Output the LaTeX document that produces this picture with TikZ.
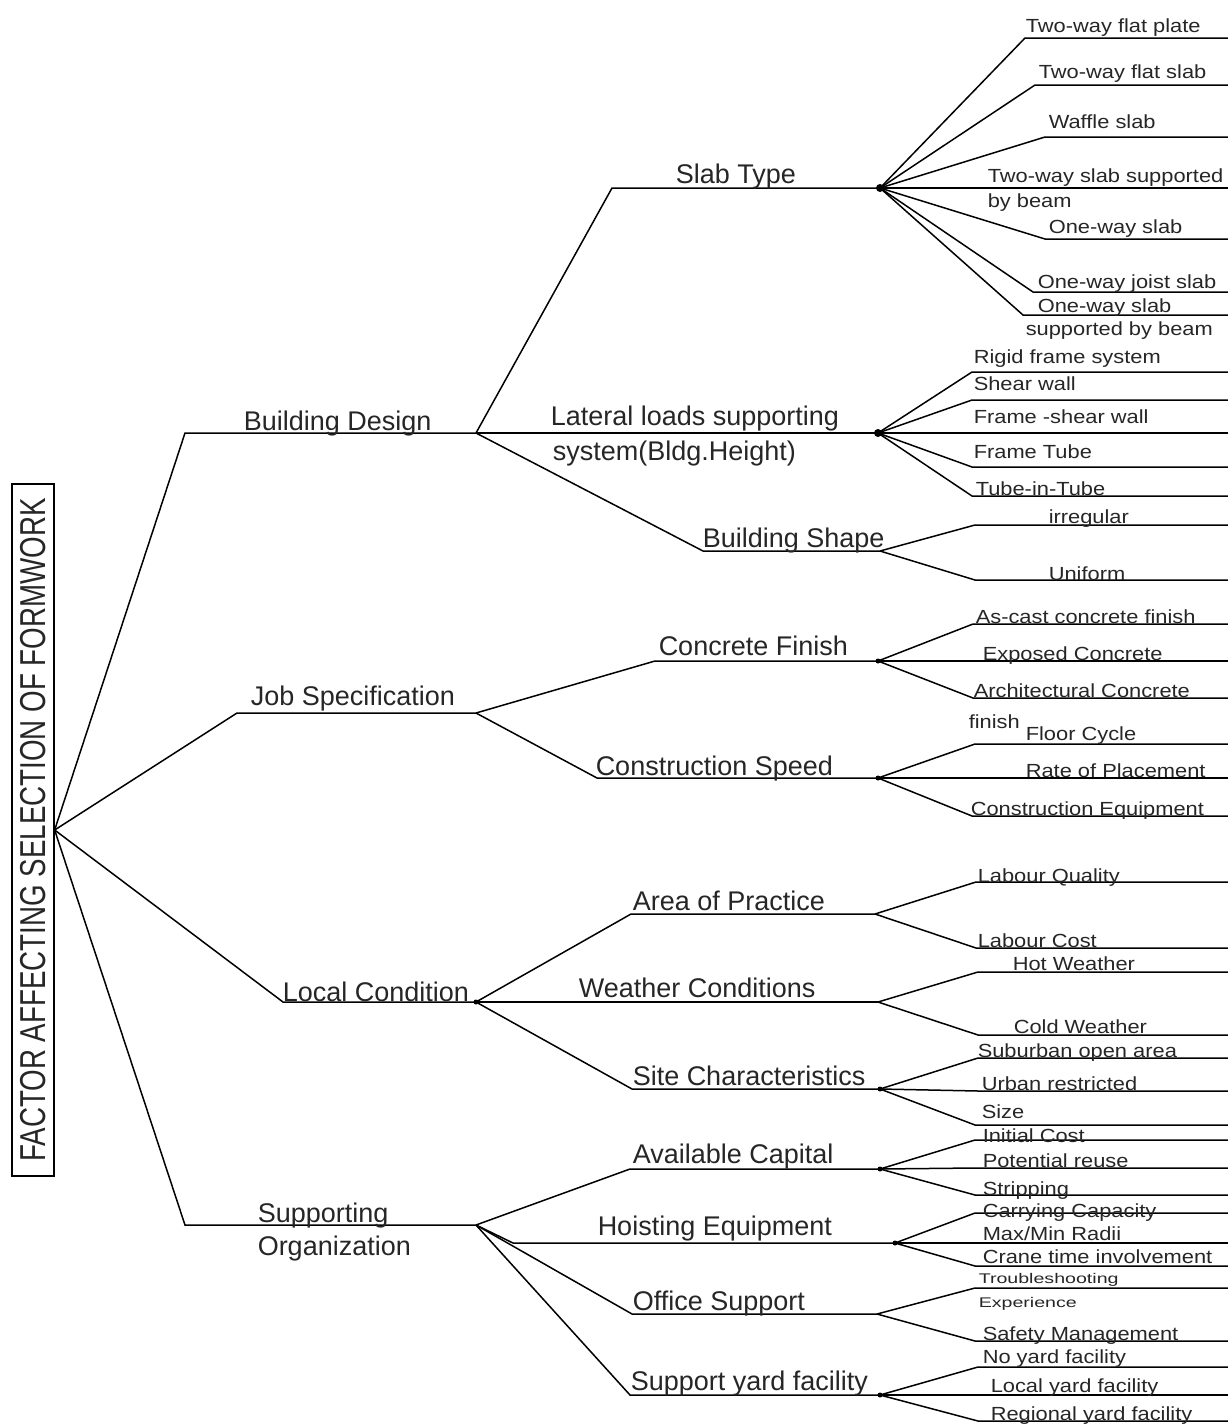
\documentclass[tikz,border=0pt]{standalone}
\usepackage{fontspec}
\setmainfont{Liberation Sans}
\newfontfamily\leaffont[FakeStretch=1.15]{Liberation Sans}
\newfontfamily\tinyleaffont[FakeStretch=1.4]{Liberation Sans}
\newfontfamily\rootfont[FakeStretch=0.77]{Liberation Sans}

\begin{document}
\begin{tikzpicture}[x=1pt,y=-1pt,line width=1.5pt,
  lvl/.style={font=\fontsize{27}{30}\selectfont,anchor=base west,inner sep=0pt,text=black!85},
  leaf/.style={font=\leaffont\fontsize{19}{21}\selectfont,anchor=base west,inner sep=0pt,text=black!85},
  knot/.style={circle,fill,inner sep=0pt,minimum size=5pt}]
  \useasboundingbox (0,0) rectangle (1228,1428);
  \node[draw,line width=1.3pt,rotate=90,minimum width=692pt,minimum height=42pt,inner sep=0pt,
    font=\rootfont\fontsize{36}{38}\selectfont,text=black!85] (root) at (33,830) {FACTOR AFFECTING SELECTION OF FORMWORK};
  % main factors
  \foreach \k/\x/\y in {bd/185/433,js/237/713,lc/283/1002,so/185/1225}{
    \coordinate (\k0) at (\x,\y); \coordinate (\k) at (476,\y);
    \draw (root.south) -- (\k0) -- (\k);}
  % sub factors
  \foreach \p/\k/\x/\y/\e in {bd/st/612/188/880, bd/ll/476/433/878, bd/bs/703/551/880,
      js/cf/655/661/878, js/cs/597/778/878,
      lc/ap/631/914/875, lc/wc/476/1002/878, lc/sc/632/1089/880,
      so/ac/630/1169/880, so/he/513/1243/895, so/os/632/1314/877, so/sy/630/1395/880}{
    \coordinate (\k0) at (\x,\y); \coordinate (\k) at (\e,\y);
    \draw (\p) -- (\k0) -- (\k);}
  % items
  \foreach \p/\x/\y [count=\i] in {st/1025/38, st/1035/85, st/1045/137, st/960/188, st/1045/239, st/1033/292, st/1023/315,
      ll/972/372, ll/972/400, ll/972/433, ll/972/467, ll/972/496, bs/975/525, bs/975/580,
      cf/973/624, cf/973/661, cf/973/698, cs/975/744, cs/975/778, cs/972/816,
      ap/976/882, ap/976/948, wc/978/972, wc/978/1035, sc/978/1058, sc/978/1091, sc/975/1125,
      ac/975/1140, ac/975/1168, ac/975/1195, he/975/1213, he/975/1243, he/975/1266,
      os/975/1288, os/975/1341, sy/978/1367, sy/978/1395, sy/978/1421}{
    \coordinate (k\i) at (\x,\y); \coordinate (e\i) at (1228,\y);
    \draw (\p) -- (k\i) -- (e\i);}
  \foreach \k in {st,ll}\node[knot,minimum size=8pt] (d\k) at (\k) {};
  \foreach \k in {cf,cs,lc,sc,ac,he,sy}\node[knot] (d\k) at (\k) {};

  \node[lvl] (tbd) at (243,430) {Building Design};
  \node[lvl] (tjs) at (250,705) {Job Specification};
  \node[lvl] (tlc) at (282,1001) {Local Condition};
  \node[lvl] (tso) at (257,1222) {Supporting};
  \node[lvl] (tso2) at (257,1255) {Organization};
  \node[lvl] (tst) at (675,183) {Slab Type};
  \node[lvl] (tll) at (550,425) {Lateral loads supporting};
  \node[lvl] (tll2) at (552,460) {system(Bldg.Height)};
  \node[lvl] (tbs) at (702,547) {Building Shape};
  \node[lvl] (tcf) at (658,655) {Concrete Finish};
  \node[lvl] (tcs) at (595,775) {Construction Speed};
  \node[lvl] (tap) at (632,910) {Area of Practice};
  \node[lvl] (twc) at (578,997) {Weather Conditions};
  \node[lvl] (tsc) at (632,1085) {Site Characteristics};
  \node[lvl] (tac) at (632,1163) {Available Capital};
  \node[lvl] (the) at (597,1235) {Hoisting Equipment};
  \node[lvl] (tos) at (632,1310) {Office Support};
  \node[lvl] (tsy) at (630,1390) {Support yard facility};

  \foreach \x/\y/\t [count=\i] in {1025/32/Two-way flat plate, 1038/78/Two-way flat slab, 1048/128/Waffle slab,
      987/182/Two-way slab supported, 987/207/by beam, 1048/233/One-way slab, 1037/288/One-way joist slab,
      1037/312/One-way slab, 1025/335/supported by beam,
      973/363/Rigid frame system, 973/390/Shear wall, 973/423/Frame -shear wall, 973/458/Frame Tube,
      975/495/Tube-in-Tube, 1048/523/irregular, 1048/580/Uniform,
      975/623/As-cast concrete finish, 982/660/Exposed Concrete, 973/697/Architectural Concrete, 968/728/finish,
      1025/740/Floor Cycle, 1025/777/Rate of Placement, 970/815/Construction Equipment,
      977/882/Labour Quality, 977/947/Labour Cost, 1012/970/Hot Weather, 1013/1033/Cold Weather,
      977/1057/Suburban open area, 981/1090/Urban restricted, 981/1118/Size,
      982/1142/Initial Cost, 982/1167/Potential reuse, 982/1195/Stripping, 982/1217/Carrying Capacity,
      982/1263/Crane time involvement, 982/1340/Safety Management,
      982/1363/No yard facility, 990/1392/Local yard facility, 990/1420/Regional yard facility}
    \node[leaf] (l\i) at (\x,\y) {\t};
  \node[leaf] (lmm) at (982,1240) {Max/Min Radii};
  \node[leaf,font=\tinyleaffont\fontsize{14}{16}\selectfont] (lts) at (978,1283) {Troubleshooting};
  \node[leaf,font=\tinyleaffont\fontsize{14}{16}\selectfont] (lex) at (978,1307) {Experience};
\end{tikzpicture}
\end{document}
